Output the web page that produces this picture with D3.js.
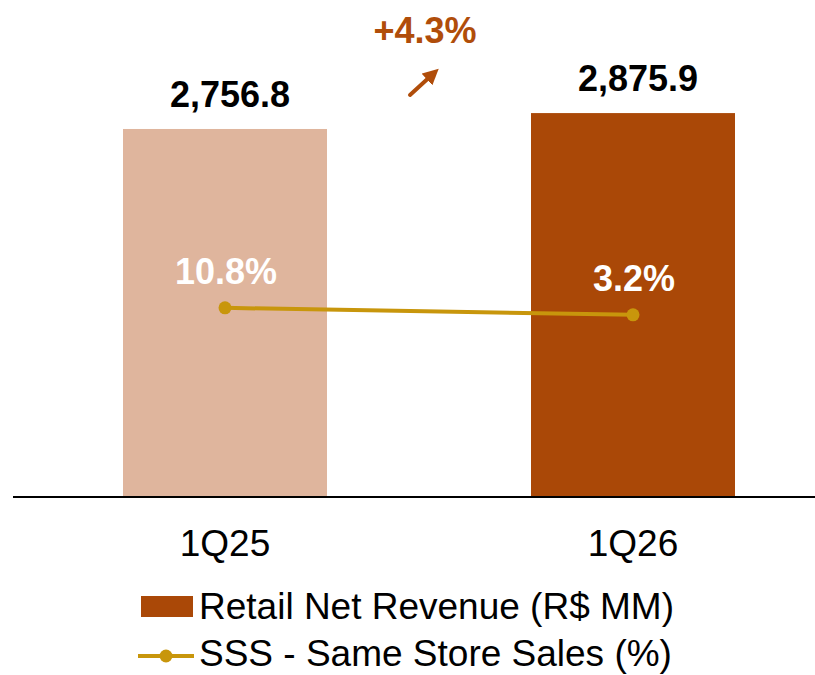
<!DOCTYPE html>
<html>
<head>
<meta charset="utf-8">
<script src="https://cdn.jsdelivr.net/npm/d3@7"></script>
<style>
  body { margin: 0; background: #fff; }
  svg { display: block; font-family: "Liberation Sans", Arial, sans-serif; }
</style>
</head>
<body>
<div id="chart"></div>
<script>
// data
var periods = ['1Q25', '1Q26'];
var revenue = [2756.8, 2875.9];
var sss = [10.8, 3.2];
var revenueLabels = ['2,756.8', '2,875.9'];
var sssLabels = ['10.8%', '3.2%'];
var growthLabel = '+4.3%';
var legendLabels = ['Retail Net Revenue (R$ MM)', 'SSS - Same Store Sales (%)'];

const W = 815, H = 675,
    Baseline = 497,
    BarColors = ['#dfb59d', '#aa4807'],
    LineColor = '#c8960c',
    ArrowColor = '#b04d0a';

var svg = d3.select('#chart').append('svg')
    .attr('width', W)
    .attr('height', H);

var x = d3.scaleBand()
    .domain(periods)
    .range([21, 837])
    .paddingInner(0.5)
    .paddingOuter(0.25);

var y = d3.scaleLinear()
    .domain([0, 3723])
    .range([Baseline, 0]);

var y2 = d3.scaleLinear()
    .domain([-194.5, 345])
    .range([Baseline, 0]);

// bars
svg.selectAll('.bar')
    .data(revenue)
    .enter().append('rect')
    .attr('class', 'bar')
    .attr('x', (d, i) => x(periods[i]))
    .attr('width', x.bandwidth())
    .attr('y', d => y(d))
    .attr('height', d => Baseline - y(d))
    .attr('fill', (d, i) => BarColors[i]);

// bar value labels
svg.selectAll('.rev-label')
    .data(revenue)
    .enter().append('text')
    .attr('class', 'rev-label')
    .attr('x', (d, i) => x(periods[i]) + x.bandwidth() / 2 + 5)
    .attr('y', d => y(d) - 22)
    .attr('text-anchor', 'middle')
    .attr('font-size', 36)
    .attr('font-weight', 'bold')
    .attr('fill', '#000')
    .text((d, i) => revenueLabels[i]);

// axis line
svg.append('line')
    .attr('x1', 13).attr('x2', W)
    .attr('y1', Baseline).attr('y2', Baseline)
    .attr('stroke', '#000')
    .attr('stroke-width', 2);

// category labels
svg.selectAll('.cat')
    .data(periods)
    .enter().append('text')
    .attr('class', 'cat')
    .attr('x', d => x(d) + x.bandwidth() / 2)
    .attr('y', 556)
    .attr('text-anchor', 'middle')
    .attr('font-size', 37)
    .attr('fill', '#000')
    .text(d => d);

// SSS line
var line = d3.line()
    .x((d, i) => x(periods[i]) + x.bandwidth() / 2)
    .y(d => y2(d));

svg.append('path')
    .datum(sss)
    .attr('d', line)
    .attr('fill', 'none')
    .attr('stroke', LineColor)
    .attr('stroke-width', 4);

svg.selectAll('.dot')
    .data(sss)
    .enter().append('circle')
    .attr('class', 'dot')
    .attr('cx', (d, i) => x(periods[i]) + x.bandwidth() / 2)
    .attr('cy', d => y2(d))
    .attr('r', 6.5)
    .attr('fill', LineColor);

svg.selectAll('.sss-label')
    .data(sss)
    .enter().append('text')
    .attr('class', 'sss-label')
    .attr('x', (d, i) => x(periods[i]) + x.bandwidth() / 2 + 1)
    .attr('y', d => y2(d) - 24)
    .attr('text-anchor', 'middle')
    .attr('font-size', 36)
    .attr('font-weight', 'bold')
    .attr('fill', '#fff')
    .text((d, i) => sssLabels[i]);

// growth label and arrow
svg.append('text')
    .attr('x', 425)
    .attr('y', 43)
    .attr('text-anchor', 'middle')
    .attr('font-size', 36)
    .attr('font-weight', 'bold')
    .attr('fill', ArrowColor)
    .text(growthLabel);

svg.append('defs').append('marker')
    .attr('id', 'arrowhead')
    .attr('viewBox', '0 0 10 10')
    .attr('refX', 6).attr('refY', 5)
    .attr('markerWidth', 4).attr('markerHeight', 4)
    .attr('orient', 'auto')
  .append('path')
    .attr('d', 'M0,0 L10,5 L0,10 Z')
    .attr('fill', ArrowColor);

svg.append('line')
    .attr('x1', 410).attr('y1', 95)
    .attr('x2', 434).attr('y2', 73)
    .attr('stroke', ArrowColor)
    .attr('stroke-width', 4)
    .attr('stroke-linecap', 'round')
    .attr('marker-end', 'url(#arrowhead)');

// legend
var legend = svg.append('g');
legend.append('rect')
    .attr('x', 141).attr('y', 596)
    .attr('width', 52).attr('height', 21)
    .attr('fill', BarColors[1]);
legend.append('text')
    .attr('x', 199).attr('y', 619)
    .attr('font-size', 37)
    .attr('fill', '#000')
    .text(legendLabels[0]);

legend.append('line')
    .attr('x1', 138).attr('x2', 194)
    .attr('y1', 656).attr('y2', 656)
    .attr('stroke', LineColor)
    .attr('stroke-width', 4);
legend.append('circle')
    .attr('cx', 166).attr('cy', 656)
    .attr('r', 6.5)
    .attr('fill', LineColor);
legend.append('text')
    .attr('x', 199).attr('y', 666)
    .attr('font-size', 37)
    .attr('fill', '#000')
    .text(legendLabels[1]);
</script>
</body>
</html>
